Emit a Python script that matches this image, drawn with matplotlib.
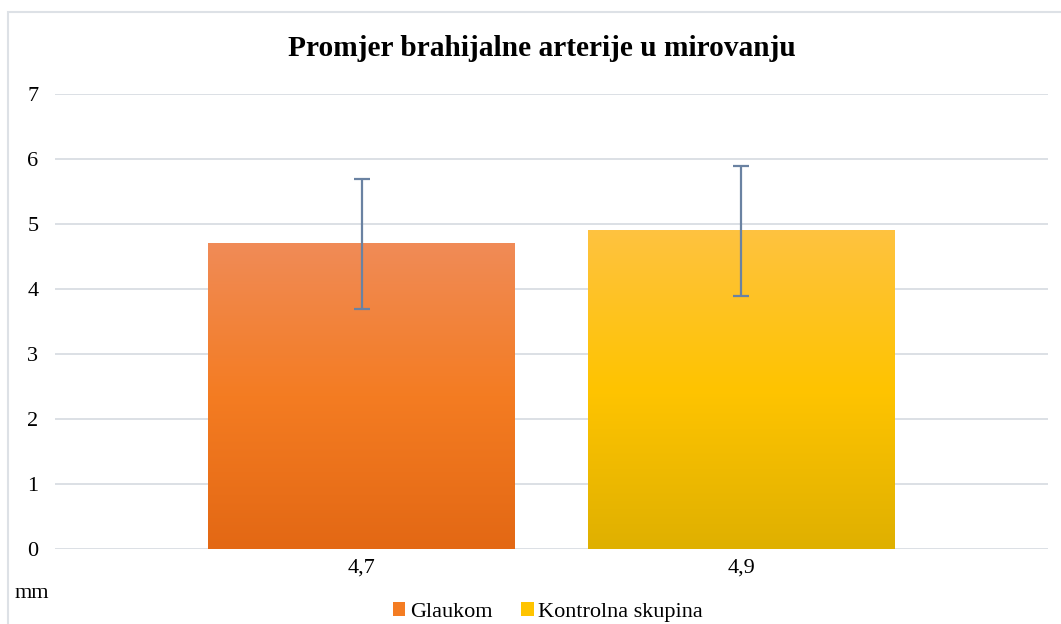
import numpy as np
import matplotlib
matplotlib.use('Agg')
import matplotlib.pyplot as plt
from matplotlib.colors import LinearSegmentedColormap
from matplotlib.patches import Rectangle

# ── Data ────────────────────────────────────────────────────────────────────
series = ['Glaukom', 'Kontrolna skupina']
values = [4.7, 4.9]
errors = [1.0, 1.0]
tick_labels = ['4,7', '4,9']
yticks = [0, 1, 2, 3, 4, 5, 6, 7]

# gradient (top, middle, bottom) per bar
gradients = [
    ['#F08B57', '#F47C22', '#E36814'],
    ['#FEC240', '#FFC400', '#DFB000'],
]

plt.rcParams.update({
    'font.family': ['Liberation Serif', 'DejaVu Serif'],
    'font.size': 12,
})

fig = plt.figure(figsize=(10.61, 6.24), dpi=100)
ax = fig.add_axes([55 / 1061, 1 - 549 / 624, 993 / 1061, (549 - 94) / 624])

x = np.arange(len(values))
width = 0.808

# ── Bars with vertical gradient ────────────────────────────────────────────
for i, (v, cols) in enumerate(zip(values, gradients)):
    cmap = LinearSegmentedColormap.from_list(f'g{i}', cols[::-1])
    grad = np.linspace(0, 1, 256).reshape(-1, 1)
    ax.imshow(grad, cmap=cmap, origin='lower', aspect='auto',
              extent=[x[i] - width / 2, x[i] + width / 2, 0, v], zorder=2)
    ax.errorbar(x[i], v, yerr=errors[i], fmt='none', ecolor='#6A82A2',
                elinewidth=1.6, capsize=5.5, capthick=1.6, zorder=3)

ax.set_xlim(-0.807, 1.807)
ax.set_ylim(0, 7)

# ── Axes styling ───────────────────────────────────────────────────────────
ax.set_yticks(yticks)
ax.set_yticklabels([str(t) for t in yticks], fontsize=16)
ax.set_xticks(x)
ax.set_xticklabels(tick_labels, fontsize=16)
ax.tick_params(axis='both', length=0)
ax.tick_params(axis='y', pad=12)
ax.tick_params(axis='x', pad=7)
for s in ax.spines.values():
    s.set_visible(False)
ax.grid(True, axis='y', color='#D9DDE3', linewidth=1.3, zorder=0)
ax.set_axisbelow(True)

# ── Title, unit, legend ────────────────────────────────────────────────────
fig.text(542 / 1061, 1 - 48 / 624, 'Promjer brahijalne arterije u mirovanju',
         ha='center', va='center', fontsize=21.2, fontweight='bold')
fig.text(15 / 1061, 1 - 593 / 624, 'mm', ha='left', va='center', fontsize=16)

handles = [Rectangle((0, 0), 1, 1, facecolor=c[1]) for c in gradients]
fig.legend(handles, series, loc='center', bbox_to_anchor=(548 / 1061, 1 - 612 / 624),
           ncol=2, frameon=False, fontsize=16, handlelength=0.55, handleheight=0.55,
           handletextpad=0.2, columnspacing=1.3, borderaxespad=0)

# ── Chart border ───────────────────────────────────────────────────────────
fig.add_artist(Rectangle((8 / 1061, -0.1), 1.2, 1 - 12 / 624 + 0.1,
                         transform=fig.transFigure, fill=False,
                         edgecolor='#DDE1E6', linewidth=1.5))

fig.savefig('out.png', dpi=100, facecolor='white')
